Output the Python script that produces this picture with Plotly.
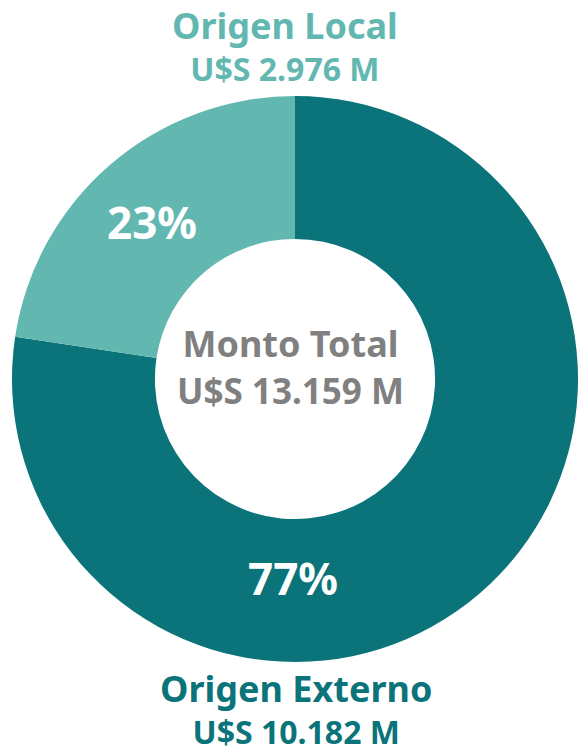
import plotly.graph_objects as go

labels = ["Origen Externo", "Origen Local"]
values = [10182, 2976]  # millones de U$S
total = 13159
colors = ["#0b737a", "#62b8b1"]
center_title = "Monto Total"

W, H = 578, 754
FONT = "Noto Sans"

def fmt(v):
    return f"{v:,}".replace(",", ".")

pct = [round(100 * v / sum(values)) for v in values]

fig = go.Figure(go.Pie(
    labels=labels, values=values, hole=0.495, sort=False,
    direction="clockwise", rotation=0,
    marker=dict(colors=colors, line=dict(width=0)),
    textinfo="none", hoverinfo="label+value+percent",
    showlegend=False,
    domain=dict(x=[12 / W, 1.0], y=[1 - 662 / H, 1 - 96 / H]),
))

def ann(text, x, y, size, color, yanchor="middle"):
    fig.add_annotation(text=text, x=x / W, y=1 - y / H, xref="paper", yref="paper",
                       showarrow=False, xanchor="center", yanchor=yanchor, align="center",
                       borderpad=0,
                       font=dict(family=FONT, size=size, color=color))

def two_lines(l1, l2, s1):
    return f"<b><span style='font-size:{s1}px'>{l1}</span></b><br><b>{l2}</b>"

# top label (Local)
ann(two_lines(labels[1], f"U$S {fmt(values[1])} M", 36), 285, 45, 32, colors[1])
# bottom label (Externo)
ann(two_lines(labels[0], f"U$S {fmt(values[0])} M", 36), 296, H, 32, colors[0], yanchor="bottom")
# center
ann(f"<b>{center_title}</b><br><b><span style='font-size:35px'>U$S {fmt(total)} M</span></b>",
    290, 366, 36, "#808080")
# percents
ann(f"<b>{pct[1]}%</b>", 152, 222, 44, "white")
ann(f"<b>{pct[0]}%</b>", 293, 578, 44, "white")

fig.update_layout(width=W, height=H, margin=dict(l=0, r=0, t=0, b=0),
                  paper_bgcolor="white", plot_bgcolor="white")
fig.write_html("out.html", config={"displayModeBar": False},
               post_script="document.body.style.margin='0';document.body.style.overflow='hidden';")
